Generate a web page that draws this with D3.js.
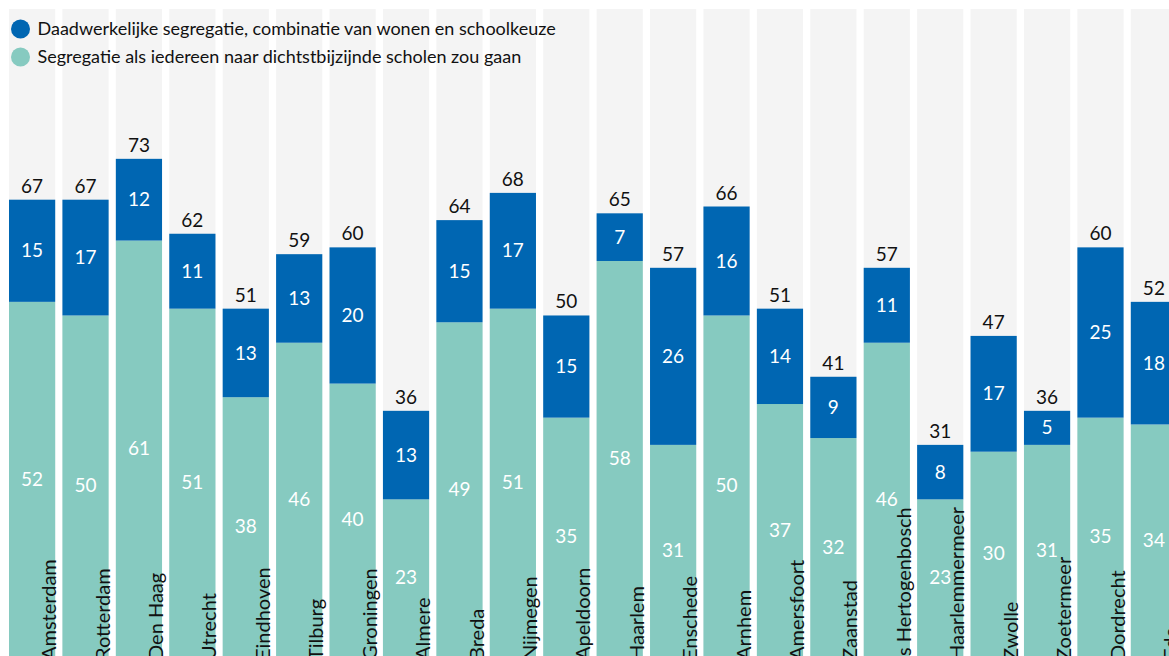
<!DOCTYPE html>
<html>
<head>
<meta charset="utf-8">
<script src="https://cdn.jsdelivr.net/npm/d3@7"></script>
<style>
  body { margin: 0; background: #fff; }
  svg text { font-family: Lato, "Noto Sans", sans-serif; }
</style>
</head>
<body>
<div id="canvas"></div>
<script>
const cities = ["Amsterdam", "Rotterdam", "Den Haag", "Utrecht", "Eindhoven", "Tilburg", "Groningen",
  "Almere", "Breda", "Nijmegen", "Apeldoorn", "Haarlem", "Enschede", "Arnhem", "Amersfoort",
  "Zaanstad", "'s Hertogenbosch", "Haarlemmermeer", "Zwolle", "Zoetermeer", "Dordrecht", "Ede"];
// segregatie als iedereen naar dichtstbijzijnde scholen zou gaan
const nearest = [52, 50, 61, 51, 38, 46, 40, 23, 49, 51, 35, 58, 31, 50, 37, 32, 46, 23, 30, 31, 35, 34];
// extra door combinatie van wonen en schoolkeuze
const extra = [15, 17, 12, 11, 13, 13, 20, 13, 15, 17, 15, 7, 26, 16, 14, 9, 11, 8, 17, 5, 25, 18];
const legendLabels = ["Daadwerkelijke segregatie, combinatie van wonen en schoolkeuze",
  "Segregatie als iedereen naar dichtstbijzijnde scholen zou gaan"];

const width = 1169;
const height = 656;
const blue = "#0066b2";
const teal = "#86cac0";

const rows = cities.map((c, i) => ({ city: c, nearest: nearest[i], extra: extra[i] }));
const series = d3.stack().keys(["nearest", "extra"])(rows);

const svg = d3.select("#canvas").append("svg")
  .attr("width", width)
  .attr("height", height);

const x = d3.scaleBand()
  .domain(cities)
  .range([9, 1177])
  .paddingInner(0.135)
  .paddingOuter(0);

const y = d3.scaleLinear()
  .domain([0, 95])
  .range([656, 9]);

const color = d3.scaleOrdinal().domain(["nearest", "extra"]).range([teal, blue]);

// grijze achtergrondbalken
svg.append("g").selectAll("rect").data(cities).enter().append("rect")
  .attr("x", d => x(d))
  .attr("y", y(95))
  .attr("width", x.bandwidth())
  .attr("height", y(0) - y(95) + 20)
  .style("fill", "#f4f4f4");

const layers = svg.append("g").selectAll("g").data(series).enter().append("g")
  .style("fill", d => color(d.key));

layers.selectAll("rect").data(d => d).enter().append("rect")
  .attr("x", d => x(d.data.city))
  .attr("y", d => y(d[1]))
  .attr("width", x.bandwidth())
  .attr("height", d => y(d[0]) - y(d[1]) + (d[0] === 0 ? 20 : 0));

// waarden in de segmenten
layers.selectAll("text").data(d => d).enter().append("text")
  .attr("x", d => x(d.data.city) + x.bandwidth() / 2)
  .attr("y", d => (y(d[0]) + y(d[1])) / 2)
  .attr("text-anchor", "middle")
  .attr("dy", "0.35em")
  .style("fill", "#fff")
  .style("font-size", "19px")
  .text(d => d[1] - d[0]);

// totalen boven de balken
svg.append("g").selectAll("text").data(rows).enter().append("text")
  .attr("x", d => x(d.city) + x.bandwidth() / 2)
  .attr("y", d => y(d.nearest + d.extra) - 7)
  .attr("text-anchor", "middle")
  .style("fill", "#111")
  .style("font-size", "19px")
  .text(d => d.nearest + d.extra);

// stadsnamen
svg.append("g").selectAll("text").data(cities).enter().append("text")
  .attr("transform", d => `translate(${x(d) + x.bandwidth() + 1},${height + 4}) rotate(-90)`)
  .style("fill", "#111")
  .style("font-size", "20px")
  .text(d => d);

// legenda
const legend = svg.append("g").selectAll("g").data(legendLabels).enter().append("g")
  .attr("transform", (d, i) => `translate(20.5,${29 + i * 28})`);
legend.append("circle")
  .attr("r", 9.5)
  .style("fill", (d, i) => i === 0 ? blue : teal);
legend.append("text")
  .attr("x", 17)
  .attr("dy", "0.35em")
  .style("fill", "#111")
  .style("font-size", "18px")
  .text(d => d);
</script>
</body>
</html>
